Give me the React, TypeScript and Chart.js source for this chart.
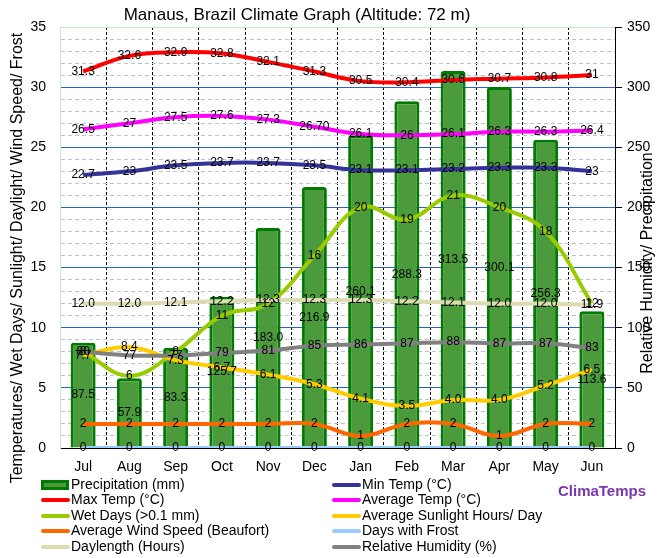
import { useEffect, useRef } from "react";
import { Chart, registerables } from "chart.js";

Chart.register(...registerables);

const months = ["Jul", "Aug", "Sep", "Oct", "Nov", "Dec", "Jan", "Feb", "Mar", "Apr", "May", "Jun"];
const precipitation = [87.5, 57.9, 83.3, 125.7, 183.0, 216.9, 260.1, 288.3, 313.5, 300.1, 256.3, 113.6];
const minTemp = [22.7, 23, 23.5, 23.7, 23.7, 23.5, 23.1, 23.1, 23.2, 23.3, 23.3, 23];
const maxTemp = [31.3, 32.6, 32.9, 32.8, 32.1, 31.3, 30.5, 30.4, 30.6, 30.7, 30.8, 31];
const avgTemp = ["26.5", "27", "27.5", "27.6", "27.3", "26.70", "26.1", "26", "26.1", "26.3", "26.3", "26.4"];
const wetDays = [8, 6, 8, 11, 12, 16, 20, 19, 21, 20, 18, 12];
const sunlightHours = [7.7, 8.4, 7.3, 6.7, 6.1, 5.3, 4.1, 3.5, 4.0, 4.0, 5.2, 6.5];
const windSpeed = [2, 2, 2, 2, 2, 2, 1, 2, 2, 1, 2, 2];
const frostDays = [0, 0, 0, 0, 0, 0, 0, 0, 0, 0, 0, 0];
const daylength = [12.0, 12.0, 12.1, 12.2, 12.3, 12.3, 12.3, 12.2, 12.1, 12.0, 12.0, 11.9];
const humidity = [80, 77, 77, 79, 81, 85, 86, 87, 88, 87, 87, 83];

const TITLE = "Manaus, Brazil Climate Graph (Altitude: 72 m)";
const LEFT_TITLE = "Temperatures/ Wet Days/ Sunlight/ Daylight/ Wind Speed/ Frost";
const RIGHT_TITLE = "Relative Humidity/ Precipitation";
const BRAND = "ClimaTemps";

const FONT = "'Liberation Sans', Arial, sans-serif";

const fixed1 = (v: any) => Number(v).toFixed(1);
const plain = (v: any) => String(v);

const labelsPlugin = {
  id: "valueLabels",
  afterDatasetsDraw(chart: any) {
    const ctx = chart.ctx;
    ctx.save();
    ctx.font = `12px ${FONT}`;
    ctx.fillStyle = "#000";
    ctx.textAlign = "center";
    ctx.textBaseline = "middle";
    chart.data.datasets.forEach((ds: any, i: number) => {
      const meta = chart.getDatasetMeta(i);
      if (meta.hidden) return;
      const fmt = ds.fmt || plain;
      meta.data.forEach((el: any, j: number) => {
        const txt = fmt(ds.data[j]);
        let y = el.y;
        if (meta.type === "bar") y = (el.y + el.base) / 2;
        ctx.fillText(txt, el.x, y);
      });
    });
    ctx.restore();
  },
};

const decorPlugin = {
  id: "decor",
  afterDraw(chart: any) {
    const ctx = chart.ctx;
    ctx.save();
    ctx.fillStyle = "#000";
    ctx.font = `17px ${FONT}`;
    ctx.textAlign = "center";
    ctx.textBaseline = "middle";
    ctx.fillText(TITLE, 297, 15);
    ctx.font = `16px ${FONT}`;
    ctx.save();
    ctx.translate(18, 258);
    ctx.rotate(-Math.PI / 2);
    ctx.fillText(LEFT_TITLE, 0, 0);
    ctx.restore();
    ctx.save();
    ctx.translate(648, 263);
    ctx.rotate(-Math.PI / 2);
    ctx.fillText(RIGHT_TITLE, 0, 0);
    ctx.restore();
    const rowsY = [485, 500, 516, 531, 547];
    const colX = [41, 332];
    ctx.textAlign = "left";
    ctx.font = `14px ${FONT}`;
    chart.data.datasets.forEach((ds: any, i: number) => {
      const col = i % 2;
      const row = Math.floor(i / 2);
      const x = colX[col];
      const y = rowsY[row];
      if (ds.type === "bar") {
        ctx.fillStyle = ds.borderColor;
        ctx.fillRect(x, y - 5, 28, 10);
        ctx.fillStyle = ds.backgroundColor;
        ctx.fillRect(x + 3, y - 2, 22, 4);
      } else {
        ctx.strokeStyle = ds.borderColor;
        ctx.lineWidth = 4;
        ctx.lineCap = "round";
        ctx.beginPath();
        ctx.moveTo(x + 2, y);
        ctx.lineTo(x + 27, y);
        ctx.stroke();
      }
      ctx.fillStyle = "#000";
      ctx.fillText(ds.label, x + 30, y);
    });
    ctx.font = `bold 15px ${FONT}`;
    ctx.fillStyle = "#7b35b0";
    ctx.textAlign = "center";
    ctx.fillText(BRAND, 602, 492);
    ctx.restore();
  },
};

export default function App() {
  const ref = useRef<HTMLCanvasElement | null>(null);
  useEffect(() => {
    if (!ref.current) return;
    const line = (label: string, data: any[], color: string, order: number, extra: any = {}) => ({
      type: "line",
      label,
      data,
      borderColor: color,
      backgroundColor: color,
      borderWidth: 4,
      pointRadius: 0,
      tension: 0.4,
      fill: false,
      yAxisID: "y",
      order,
      ...extra,
    });
    const chart = new Chart(ref.current, {
      type: "bar",
      data: {
        labels: months,
        datasets: [
          {
            type: "bar",
            label: "Precipitation (mm)",
            data: precipitation,
            backgroundColor: "#4b9b3c",
            borderColor: "#007a00",
            borderWidth: 3,
            borderRadius: 3,
            borderSkipped: "bottom",
            categoryPercentage: 1,
            barPercentage: 0.54,
            yAxisID: "y1",
            order: 100,
            fmt: fixed1,
          } as any,
          line("Min Temp (°C)", minTemp, "#333399", 19),
          line("Max Temp (°C)", maxTemp, "#ff0000", 18),
          line("Average Temp (°C)", avgTemp, "#ff00ff", 17),
          line("Wet Days (>0.1 mm)", wetDays, "#99cc00", 16),
          line("Average Sunlight Hours/ Day", sunlightHours, "#ffcc00", 15, { fmt: fixed1 }),
          line("Average Wind Speed (Beaufort)", windSpeed, "#ff6600", 14),
          line("Days with Frost", frostDays, "#99ccff", 13),
          line("Daylength (Hours)", daylength, "#dcdcb0", 12, { fmt: fixed1 }),
          line("Relative Humidity (%)", humidity, "#808080", 11, { yAxisID: "y1" }),
        ] as any,
      },
      options: {
        responsive: false,
        animation: false,
        layout: { padding: { top: 27, left: 0, right: 0, bottom: 0 } },
        plugins: {
          legend: { display: false },
          title: { display: false },
          tooltip: { enabled: false },
        },
        scales: {
          x: {
            position: "bottom",
            afterFit: (s: any) => {
              s.height = 110;
            },
            grid: {
              offset: true,
              color: (c: any) => (c.index === 0 ? "rgba(0,0,0,0)" : "#000"),
              lineWidth: 1,
              drawTicks: false,
            },
            border: { display: true, color: "#000", width: 1, dash: [3, 2] },
            ticks: { color: "#000", font: { family: FONT, size: 14 }, padding: 11, maxRotation: 0 },
          },
          y: {
            position: "left",
            min: 0,
            max: 35,
            afterFit: (s: any) => {
              s.width = 60;
            },
            ticks: {
              stepSize: 1,
              autoSkip: false,
              padding: 14,
              color: "#000",
              font: { family: FONT, size: 14 },
              callback: (v: any) => (Number(v) % 5 === 0 ? String(v) : ""),
            },
            grid: {
              drawTicks: false,
              color: (c: any) => (c.tick && c.tick.value % 5 === 0 ? "rgba(0,0,0,0)" : "#b9c3d3"),
              lineWidth: 1,
            },
            border: { display: true, color: "#c6ecc6", width: 1, dash: [4, 3] },
          },
          y1: {
            position: "right",
            min: 0,
            max: 350,
            afterFit: (s: any) => {
              s.width = 46;
            },
            ticks: {
              stepSize: 50,
              padding: 5,
              color: "#000",
              font: { family: FONT, size: 14 },
            },
            grid: {
              drawTicks: true,
              tickLength: 7,
              tickColor: "#000",
              color: (c: any) => {
                const v = c.tick ? c.tick.value : -1;
                if (v === 0) return "rgba(0,0,0,0)";
                if (v === 350) return "#c6ecc6";
                return "#2a62c8";
              },
              lineWidth: 1,
            },
            border: { display: true, color: "#000", width: 1 },
          },
        },
      } as any,
      plugins: [labelsPlugin, decorPlugin],
    });
    return () => chart.destroy();
  }, []);
  return (
    <div style={{ position: "absolute", left: 0, top: 0, width: 661, height: 558, background: "#fff" }}>
      <canvas ref={ref} width={661} height={558} style={{ display: "block", width: 661, height: 558 }} />
    </div>
  );
}
